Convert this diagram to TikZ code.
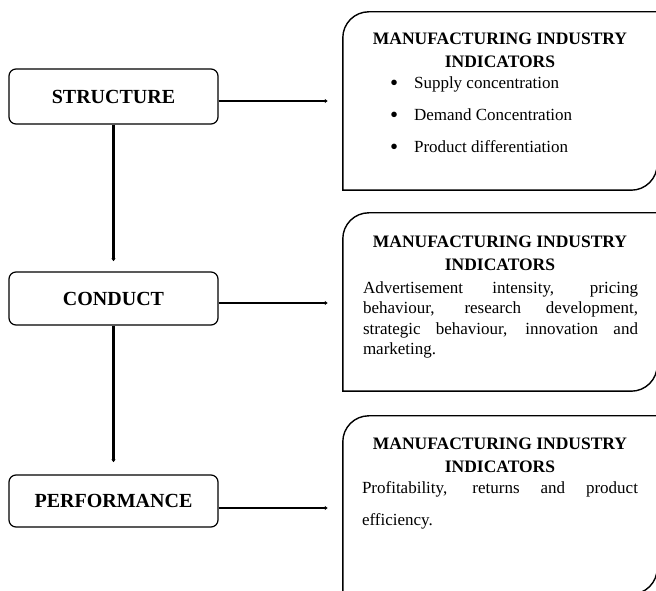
\documentclass[tikz,border=0pt]{standalone}
\usepackage{fontspec}
\setmainfont{Liberation Serif}
\usetikzlibrary{positioning,arrows.meta}
\hyphenpenalty=10000
\exhyphenpenalty=10000

\begin{document}
\begin{tikzpicture}[x=1pt,y=1pt,
    level/.style={draw, line width=1.2pt, rounded corners=7pt, minimum width=209pt, inner sep=0pt, font=\fontsize{20}{24}\selectfont\bfseries},
    indbox/.style={minimum width=314pt, minimum height=178pt, inner sep=0pt},
    indborder/.style={line width=1.4pt},
    indtitle/.style={inner sep=0pt, align=center, font=\fontsize{17.5}{23}\selectfont\bfseries},
    indtext/.style={inner sep=0pt, align=justify, font=\fontsize{17}{20.5}\selectfont},
    bullets/.style={inner sep=0pt, align=left, font=\fontsize{17}{32}\selectfont},
    link/.style={line width=2.4pt, -{Latex[length=3pt,width=4.5pt]}}]
      \useasboundingbox (0,0) rectangle (656,591);

      %% levels
      \node[level, minimum height=55pt] (struct) at (113.5,494.5) {STRUCTURE};
      \node[level, minimum height=53pt] (cond) at (113.5,292.5) {CONDUCT};
      \node[level, minimum height=52pt] (perf) at (113.5,90) {PERFORMANCE};

      %% indicator boxes
      \node[indbox] (ind1) at (500,490) {};
      \node[indbox] (ind2) at (500,289) {};
      \node[indbox] (ind3) at (500,86) {};

      % ind1 border
      \draw[indborder] (ind1.south west) -- ([yshift=-26pt]ind1.north west) arc[start angle=180, end angle=90, radius=26pt] -- (ind1.north east) -- ([yshift=26pt]ind1.south east) arc[start angle=0, end angle=-90, radius=26pt] -- cycle;
      % ind2 border
      \draw[indborder] (ind2.south west) -- ([yshift=-26pt]ind2.north west) arc[start angle=180, end angle=90, radius=26pt] -- (ind2.north east) -- ([yshift=26pt]ind2.south east) arc[start angle=0, end angle=-90, radius=26pt] -- cycle;
      % ind3 border
      \draw[indborder] (ind3.south west) -- ([yshift=-26pt]ind3.north west) arc[start angle=180, end angle=90, radius=26pt] -- (ind3.north east) -- ([yshift=26pt]ind3.south east) arc[start angle=0, end angle=-90, radius=26pt] -- cycle;

      %% box texts
      \node[indtitle, below=21.4pt of ind1.north] (t1) {MANUFACTURING INDUSTRY\\INDICATORS};
      \node[bullets, below right=64.4pt and 47pt of ind1.north west] (b1)
        {\raisebox{-2.5pt}{\fontsize{23}{0}\selectfont\textbullet}\hspace{16pt}Supply concentration\\
         \raisebox{-2.5pt}{\fontsize{23}{0}\selectfont\textbullet}\hspace{16pt}Demand Concentration\\
         \raisebox{-2.5pt}{\fontsize{23}{0}\selectfont\textbullet}\hspace{16pt}Product differentiation};

      \node[indtitle, below=23.4pt of ind2.north] (t2) {MANUFACTURING INDUSTRY\\INDICATORS};
      \node[indtext, text width=275pt, below right=68.4pt and 20pt of ind2.north west] (b2)
        {Advertisement intensity, pricing behaviour, research development, strategic behaviour, innovation and marketing.};

      \node[indtitle, below=22.4pt of ind3.north] (t3) {MANUFACTURING INDUSTRY\\INDICATORS};
      \node[indtext, text width=276pt, font=\fontsize{17}{32}\selectfont, below right=65.4pt and 19pt of ind3.north west] (b3)
        {Profitability, returns and product efficiency.};

      %% connectors
      % structure -> conduct
      \draw[link, shorten >=10pt] (struct.south) -- (cond.north);
      % conduct -> performance
      \draw[link, shorten >=12pt] (cond.south) -- (perf.north);

      % levels -> indicators
      \draw[link, shorten >=15pt] ([yshift=-4.5pt]struct.east) -- ([yshift=-4.5pt]struct.east -| ind1.west);
      \draw[link, shorten >=15pt] ([yshift=-4.5pt]cond.east) -- ([yshift=-4.5pt]cond.east -| ind2.west);
      \draw[link, shorten >=15pt] ([yshift=-7pt]perf.east) -- ([yshift=-7pt]perf.east -| ind3.west);
\end{tikzpicture}
\end{document}
